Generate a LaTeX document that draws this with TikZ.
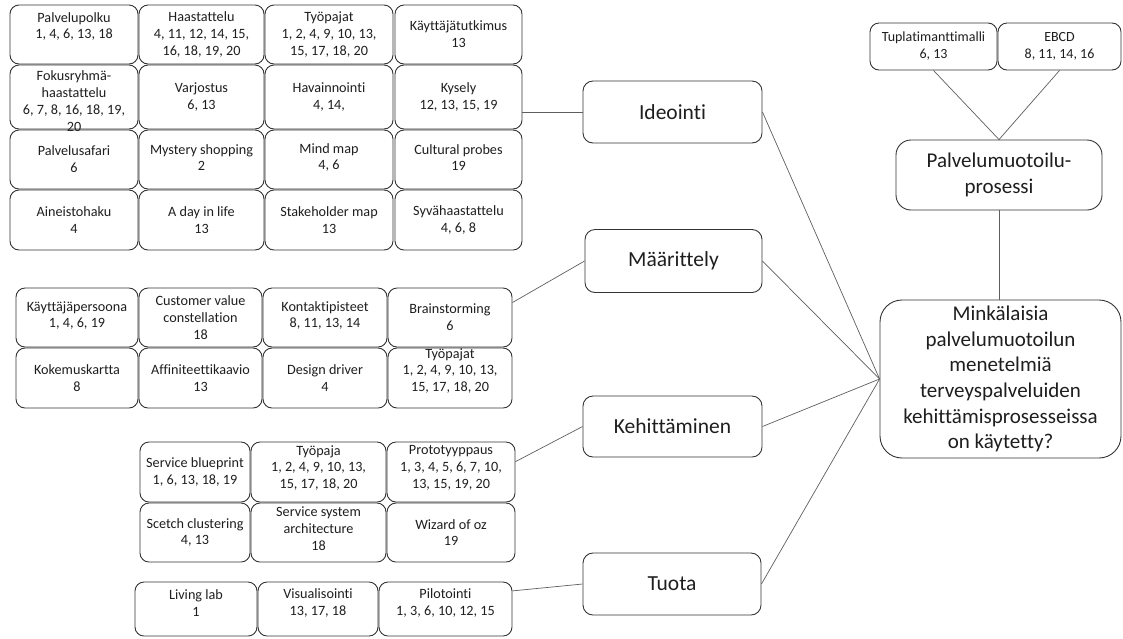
\documentclass[tikz,border=0pt]{standalone}
\usepackage{fontspec}
\setmainfont{Carlito}[Ligatures=NoCommon]
\usetikzlibrary{calc}

\definecolor{boxline}{HTML}{333333}
\definecolor{wire}{HTML}{5E5E5E}
\definecolor{ink}{HTML}{1E1E1E}

\tikzset{
  x=1pt, y=-1pt,
  cell/.style={draw=boxline, line width=0.9pt, rounded corners=9pt, inner sep=0pt},
  celltext/.style={align=center, inner sep=0pt, text=ink,
    font=\fontsize{14.2}{16.8}\selectfont},
  phase/.style={draw=boxline, line width=0.9pt, rounded corners=10pt, inner sep=0pt,
    align=center, text=ink, font=\fontsize{21.5}{26}\selectfont},
  model/.style={draw=boxline, line width=0.9pt, rounded corners=9pt, inner sep=0pt,
    align=center, text=ink, font=\fontsize{14}{17}\selectfont},
  wireline/.style={draw=wire, line width=0.7pt},
}

% method box from (x1,y1) to (x2,y2); optional argument lifts the text
\newcommand\methodcell[7][0]{%
  \node[cell, minimum width={(#5-#3)*1pt}, minimum height={(#6-#4)*1pt}]
    (#2) at ({(#3+#5)/2},{(#4+#6)/2}) {};
  \node[celltext] at ([yshift=#1pt]#2.center) {#7};
}

\begin{document}
\begin{tikzpicture}
\useasboundingbox (0,0) rectangle (1123,638);

% --- Ideointi methods ---
\methodcell[8]{palvelupolku}{10}{5}{138}{64}{Palvelupolku\\1, 4, 6, 13, 18}
\methodcell{haastattelu}{139}{5}{264}{64}{Haastattelu\\4, 11, 12, 14, 15,\\16, 18, 19, 20}
\methodcell{tyopajatA}{265}{5}{393}{64}{Työpajat\\1, 2, 4, 9, 10, 13,\\15, 17, 18, 20}
\methodcell{kayttajatutkimus}{395}{5}{522}{64}{Käyttäjätutkimus\\13}
\methodcell[-4]{fokus}{10}{65}{138}{129}{Fokusryhmä-\\haastattelu\\6, 7, 8, 16, 18, 19,\\20}
\methodcell{varjostus}{139}{65}{264}{129}{Varjostus\\6, 13}
\methodcell{havainnointi}{265}{65}{393}{129}{Havainnointi\\4, 14,}
\methodcell{kysely}{395}{65}{522}{129}{Kysely\\12, 13, 15, 19}
\methodcell{palvelusafari}{10}{130}{138}{189}{Palvelusafari\\6}
\methodcell[2]{mystery}{139}{130}{264}{189}{Mystery shopping\\2}
\methodcell[2]{mindmap}{265}{130}{393}{189}{Mind map\\4, 6}
\methodcell[2]{cultural}{395}{130}{522}{189}{Cultural probes\\19}
\methodcell{aineistohaku}{10}{190}{138}{250}{Aineistohaku\\4}
\methodcell{dayinlife}{139}{190}{264}{250}{A day in life\\13}
\methodcell{stakeholder}{265}{190}{393}{250}{Stakeholder map\\13}
\methodcell{syva}{395}{190}{522}{250}{Syvähaastattelu\\4, 6, 8}

% --- Määrittely methods ---
\methodcell[2]{persoona}{16}{288}{138}{347}{Käyttäjäpersoona\\1, 4, 6, 19}
\methodcell{customer}{139}{288}{262}{347}{Customer value\\constellation\\18}
\methodcell[2]{kontakti}{263}{288}{387}{347}{Kontaktipisteet\\8, 11, 13, 14}
\methodcell{brainstorming}{388}{288}{512}{347}{Brainstorming\\6}
\methodcell{kokemus}{16}{348}{138}{408}{Kokemuskartta\\8}
\methodcell{affiniteetti}{139}{348}{262}{408}{Affiniteettikaavio\\13}
\methodcell{designdriver}{263}{348}{387}{408}{Design driver\\4}
\methodcell[7]{tyopajatB}{388}{348}{512}{408}{Työpajat\\1, 2, 4, 9, 10, 13,\\15, 17, 18, 20}

% --- Kehittäminen methods ---
\methodcell{blueprint}{140}{442}{250}{502}{Service blueprint\\1, 6, 13, 18, 19}
\methodcell[4]{tyopaja}{251}{442}{386}{502}{Työpaja\\1, 2, 4, 9, 10, 13,\\15, 17, 18, 20}
\methodcell[4]{prototyyppaus}{387}{442}{515}{502}{Prototyyppaus\\1, 3, 4, 5, 6, 7, 10,\\13, 15, 19, 20}
\methodcell{scetch}{140}{503}{250}{562}{Scetch clustering\\4, 13}
\methodcell[4]{architecture}{251}{503}{386}{562}{Service system\\architecture\\18}
\methodcell{wizard}{387}{503}{515}{562}{Wizard of oz\\19}

% --- Tuota methods ---
\methodcell[6]{livinglab}{135}{582}{257}{636}{Living lab\\1}
\methodcell[6]{visualisointi}{258}{582}{378}{636}{Visualisointi\\13, 17, 18}
\methodcell[6]{pilotointi}{379}{582}{512}{636}{Pilotointi\\1, 3, 6, 10, 12, 15}

% --- phases ---
\node[phase, minimum width=179pt, minimum height=62pt] (ideointi) at (672.5,112) {Ideointi};
\node[phase, minimum width=177pt, minimum height=63pt] (maarittely) at (673.5,261) {Määrittely};
\node[phase, minimum width=179pt, minimum height=61pt] (kehittaminen) at (672.5,426.5) {Kehittäminen};
\node[phase, minimum width=178pt, minimum height=62pt] (tuota) at (672,584) {Tuota};

% --- research question and process ---
\node[phase, rounded corners=22pt, minimum width=241pt, minimum height=158pt,
      font=\fontsize{21}{25.6}\selectfont] (question) at (1000.5,379)
  {Minkälaisia\\palvelumuotoilun\\menetelmiä\\terveyspalveluiden\\kehittämisprosesseissa\\on käytetty?};
\node[phase, rounded corners=15pt, minimum width=206pt, minimum height=70pt,
      font=\fontsize{21}{26.5}\selectfont] (prosessi) at (999,175)
  {Palvelumuotoilu-\\prosessi};
\node[model, minimum width=127pt, minimum height=47pt] (tupla) at (933.5,46.5)
  {Tuplatimanttimalli\\6, 13};
\node[model, minimum width=123pt, minimum height=47pt] (ebcd) at (1059.5,46.5)
  {EBCD\\8, 11, 14, 16};

% --- connectors ---
\draw[wireline] (ideointi.west) -- (ideointi.west -| kysely.east);
\draw[wireline] (maarittely.west) -- ($(brainstorming.north east)!0.25!(brainstorming.south east)$);
\draw[wireline] (kehittaminen.west) -- ($(prototyyppaus.north east)!0.33!(prototyyppaus.south east)$);
\draw[wireline] (tuota.west) -- ($(pilotointi.north east)!0.17!(pilotointi.south east)$);

\foreach \p in {ideointi, maarittely, kehittaminen, tuota}
  \draw[wireline] (\p.east) -- (question.west);

\draw[wireline] (prosessi.south) -- (prosessi.south |- question.north);
\draw[wireline] (tupla.south) -- (prosessi.north);
\draw[wireline] (ebcd.south) -- (prosessi.north);
\end{tikzpicture}
\end{document}
